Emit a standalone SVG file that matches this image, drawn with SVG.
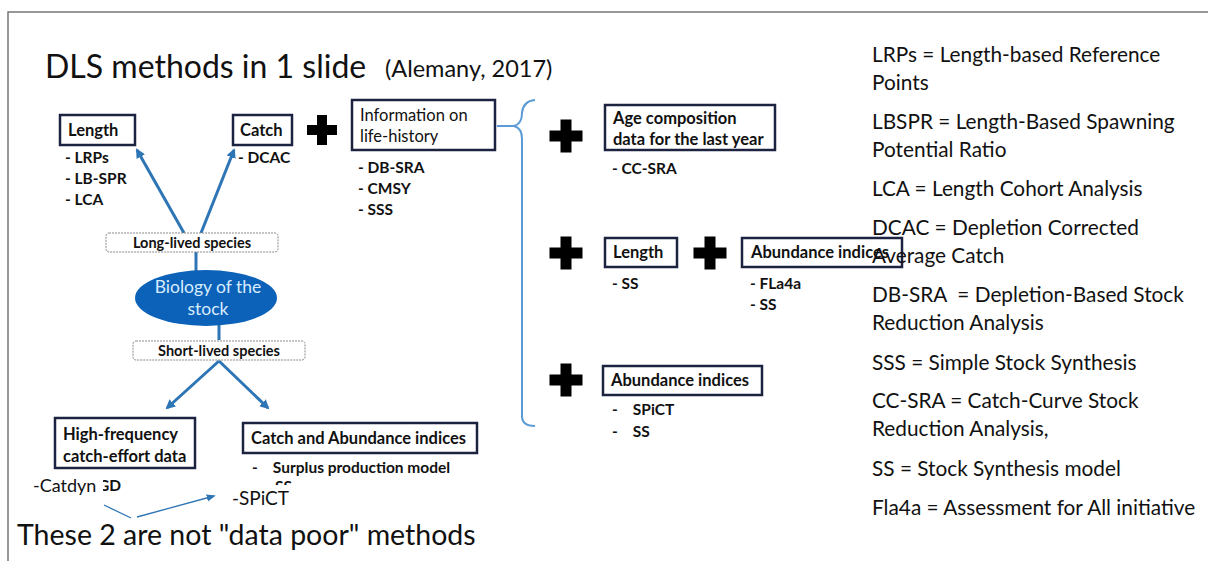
<svg xmlns="http://www.w3.org/2000/svg" width="1208" height="561" viewBox="0 0 1208 561">
<style>
  text { font-family: Lato, "Liberation Sans", sans-serif; fill: #111; }
  .box { fill: #fff; stroke: #1c2340; stroke-width: 2.5; }
  .bt { font-size: 16.5px; font-weight: bold; }
  .bn { font-size: 16.5px; }
  .li { font-size: 15.5px; font-weight: bold; }
  .dash { fill: #fff; stroke: #8a8a8a; stroke-width: 1; stroke-dasharray: 2 1; }
  .dt { font-size: 14.5px; font-weight: bold; text-anchor: middle; }
  .conn { stroke: #2e75b6; stroke-width: 3; fill: none; }
  .thin { stroke: #2e75b6; stroke-width: 1.3; fill: none; }
  .leg { font-size: 20.8px; }
  .plus { fill: #000; }
</style>
<defs>
  <marker id="ah" viewBox="0 0 10 10" refX="8" refY="5" markerWidth="3.2" markerHeight="3.2" orient="auto">
    <path d="M0,0 L10,5 L0,10 z" fill="#2e75b6"/>
  </marker>
  <marker id="ahs" viewBox="0 0 10 10" refX="8" refY="5" markerWidth="7" markerHeight="7" orient="auto">
    <path d="M0,1 L10,5 L0,9 z" fill="#2e75b6"/>
  </marker>
  <path id="plusShape" d="M-5,-15 H5 V-5 H15 V5 H5 V15 H-5 V5 H-15 V-5 H-5 Z"/>
  <clipPath id="clipSS"><rect x="270" y="479" width="40" height="6"/></clipPath>
  <clipPath id="clipGD"><rect x="103" y="470" width="30" height="25"/></clipPath>
</defs>

<rect x="0" y="0" width="1208" height="561" fill="#fff"/>
<path d="M8,561 V12 H1208" fill="none" stroke="#777" stroke-width="1.5"/>

<text x="45" y="78" font-size="32">DLS methods in 1 slide</text>
<text x="385" y="77" font-size="23.5">(Alemany, 2017)</text>

<g id="connectors">
  <line class="conn" x1="184" y1="233" x2="137" y2="150" marker-end="url(#ah)"/>
  <line class="conn" x1="201" y1="233" x2="234" y2="150" marker-end="url(#ah)"/>
  <line class="conn" x1="196" y1="252" x2="196" y2="271"/>
  <line class="conn" x1="219" y1="325" x2="219" y2="340"/>
  <line class="conn" x1="219" y1="361" x2="167" y2="408" marker-end="url(#ah)"/>
  <line class="conn" x1="219" y1="361" x2="268" y2="408" marker-end="url(#ah)"/>
  <path d="M497,126 H514 Q522,124 522,113 Q523,101 535,100 M514,126 Q522,128 522,139 V416 Q522,426 535,426" fill="none" stroke="#5b9bd5" stroke-width="2"/>
  <polyline class="thin" points="104,505 131,518"/>
  <line class="thin" x1="137" y1="517" x2="214" y2="496" marker-end="url(#ahs)"/>
</g>

<g id="plus-signs">
  <use href="#plusShape" class="plus" transform="translate(322,130)"/>
  <use href="#plusShape" class="plus" transform="translate(566,136) scale(1.1)"/>
  <use href="#plusShape" class="plus" transform="translate(566,253) scale(1.1)"/>
  <use href="#plusShape" class="plus" transform="translate(710,253) scale(1.1)"/>
  <use href="#plusShape" class="plus" transform="translate(566,380) scale(1.1)"/>
</g>

<g id="node-length">
  <rect class="box" x="60" y="115" width="75" height="30"/>
  <text class="bt" x="68" y="136">Length</text>
  <text class="li" x="65" y="163">- LRPs</text>
  <text class="li" x="65" y="184">- LB-SPR</text>
  <text class="li" x="65" y="205">- LCA</text>
</g>

<g id="node-catch">
  <rect class="box" x="233" y="115" width="59" height="30"/>
  <text class="bt" x="240" y="136">Catch</text>
  <text class="li" x="238" y="163">- DCAC</text>
</g>

<g id="node-info">
  <rect class="box" x="352" y="100" width="143" height="50"/>
  <text class="bn" x="360" y="121">Information on</text>
  <text class="bn" x="360" y="142">life-history</text>
  <text class="li" x="358" y="173">- DB-SRA</text>
  <text class="li" x="358" y="194">- CMSY</text>
  <text class="li" x="358" y="215">- SSS</text>
</g>

<g id="node-age">
  <rect class="box" x="605" y="105" width="170" height="45"/>
  <text class="bt" x="613" y="124">Age composition</text>
  <text class="bt" x="613" y="145">data for the last year</text>
  <text class="li" x="612" y="174">- CC-SRA</text>
</g>

<g id="node-length2">
  <rect class="box" x="605" y="238" width="72" height="29"/>
  <text class="bt" x="613" y="258">Length</text>
  <text class="li" x="612" y="289">- SS</text>
</g>

<g id="node-abund1">
  <rect class="box" x="742" y="238" width="160" height="29"/>
  <text class="bt" x="751" y="258" font-weight="600">Abundance indices</text>
  <text class="li" x="750" y="289">- FLa4a</text>
  <text class="li" x="750" y="310">- SS</text>
</g>

<g id="node-abund2">
  <rect class="box" x="603" y="366" width="159" height="29"/>
  <text class="bt" x="611" y="386">Abundance indices</text>
  <text class="li" x="612" y="415" xml:space="preserve">-    SPiCT</text>
  <text class="li" x="612" y="437" xml:space="preserve">-    SS</text>
</g>

<g id="node-long-lived">
  <rect class="dash" x="106" y="233" width="172" height="19" rx="3"/>
  <text class="dt" x="192" y="248">Long-lived species</text>
</g>

<g id="node-biology">
  <ellipse cx="206" cy="298" rx="71" ry="28" fill="#0b62b8"/>
  <text x="208" y="293" font-size="17.5" text-anchor="middle" style="fill:#d8ecff">Biology of the</text>
  <text x="208" y="315" font-size="17.5" text-anchor="middle" style="fill:#d8ecff">stock</text>
</g>

<g id="node-short-lived">
  <rect class="dash" x="133" y="341" width="172" height="19" rx="3"/>
  <text class="dt" x="219" y="356">Short-lived species</text>
</g>

<g id="node-highfreq">
  <rect class="box" x="55" y="418" width="140" height="50"/>
  <text class="bt" x="63" y="440">High-frequency</text>
  <text class="bt" x="63" y="462">catch-effort data</text>
  <text class="li" x="98" y="491" clip-path="url(#clipGD)">GD</text>
</g>

<g id="node-catchabund">
  <rect class="box" x="243" y="423" width="234" height="30"/>
  <text class="bt" x="251" y="444">Catch and Abundance indices</text>
  <text class="li" x="252" y="473" xml:space="preserve">-    Surplus production model</text>
  <text class="li" x="275" y="492" clip-path="url(#clipSS)">SS</text>
</g>

<g id="notes">
  <text x="33" y="492" font-size="18">-Catdyn</text>
  <text x="232" y="505" font-size="19">-SPiCT</text>
  <text x="17" y="545" font-size="28.5">These 2 are not "data poor" methods</text>
</g>

<g id="legend">
  <text class="leg" x="872" y="62">LRPs = Length-based Reference</text>
  <text class="leg" x="872" y="90">Points</text>
  <text class="leg" x="872" y="129">LBSPR = Length-Based Spawning</text>
  <text class="leg" x="872" y="157">Potential Ratio</text>
  <text class="leg" x="872" y="196">LCA = Length Cohort Analysis</text>
  <text class="leg" x="872" y="235">DCAC = Depletion Corrected</text>
  <text class="leg" x="872" y="263">Average Catch</text>
  <text class="leg" x="872" y="302" xml:space="preserve">DB-SRA  = Depletion-Based Stock</text>
  <text class="leg" x="872" y="330">Reduction Analysis</text>
  <text class="leg" x="872" y="370">SSS = Simple Stock Synthesis</text>
  <text class="leg" x="872" y="408">CC-SRA = Catch-Curve Stock</text>
  <text class="leg" x="872" y="436">Reduction Analysis,</text>
  <text class="leg" x="872" y="476">SS = Stock Synthesis model</text>
  <text class="leg" x="872" y="515">Fla4a = Assessment for All initiative</text>
</g>
</svg>
